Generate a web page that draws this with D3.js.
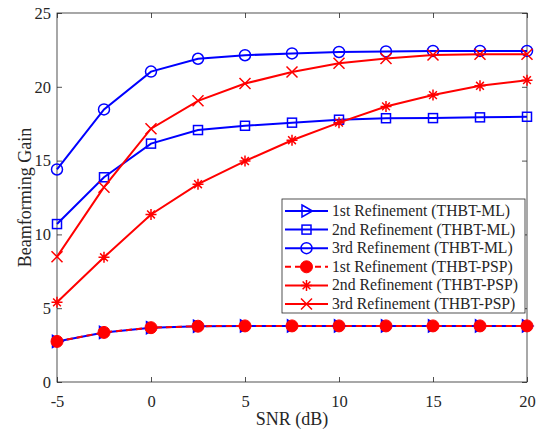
<!DOCTYPE html>
<html>
<head>
<meta charset="utf-8">
<script src="https://cdn.jsdelivr.net/npm/d3@7"></script>
<style>
  body { margin: 0; background: #fff; }
  svg text { font-family: "Liberation Serif", "Times New Roman", serif; fill: #262626; }
</style>
</head>
<body>
<svg id="chart" width="538" height="432"></svg>
<script>
// SNR sweep (dB)
const snr = [-5, -2.5, 0, 2.5, 5, 7.5, 10, 12.5, 15, 17.5, 20];

// Beamforming gain per refinement stage
const ml1  = [2.75, 3.36, 3.68, 3.78, 3.8, 3.8, 3.8, 3.8, 3.8, 3.8, 3.8];
const ml2  = [10.7, 13.87, 16.15, 17.07, 17.36, 17.57, 17.77, 17.87, 17.88, 17.93, 17.97];
const ml3  = [14.4, 18.47, 21.03, 21.9, 22.14, 22.26, 22.36, 22.4, 22.43, 22.43, 22.43];
const psp1 = [2.75, 3.36, 3.68, 3.78, 3.8, 3.8, 3.8, 3.8, 3.8, 3.8, 3.8];
const psp2 = [5.4, 8.45, 11.35, 13.4, 14.97, 16.38, 17.57, 18.67, 19.44, 20.07, 20.45];
const psp3 = [8.49, 13.2, 17.16, 19.05, 20.22, 21.0, 21.6, 21.92, 22.16, 22.2, 22.2];

const xTicks = [-5, 0, 5, 10, 15, 20];
const yTicks = [0, 5, 10, 15, 20, 25];

const series = [
  { name: "1st Refinement (THBT-ML)",  values: ml1,  color: "#0000ff", marker: "tri",    dash: null },
  { name: "2nd Refinement (THBT-ML)",  values: ml2,  color: "#0000ff", marker: "square", dash: null },
  { name: "3rd Refinement (THBT-ML)",  values: ml3,  color: "#0000ff", marker: "circle", dash: null },
  { name: "1st Refinement (THBT-PSP)", values: psp1, color: "#ff0000", marker: "dot",    dash: "6,4" },
  { name: "2nd Refinement (THBT-PSP)", values: psp2, color: "#ff0000", marker: "star",   dash: null },
  { name: "3rd Refinement (THBT-PSP)", values: psp3, color: "#ff0000", marker: "cross",  dash: null }
];

const L = 57, R = 527, T = 13, B = 382;
const svg = d3.select("#chart");
const x = d3.scaleLinear().domain([-5, 20]).range([L, R]);
const y = d3.scaleLinear().domain([0, 25]).range([B, T]);

const serif = '"Liberation Serif", "Times New Roman", serif';
const fmt = d => String(d);   // plain hyphen-minus for negatives

// Axes box with inward ticks on all four sides
const axisColor = "#262626";
const tickLen = 5;
function styleAxis(g) {
  g.attr("font-family", null).attr("font-size", null);
  g.select(".domain").remove();
  g.selectAll(".tick line").attr("stroke", axisColor).attr("stroke-width", 0.8);
  g.selectAll(".tick text")
    .style("font-family", serif)
    .style("font-size", "16.5px")
    .attr("fill", axisColor);
}
svg.append("g").attr("transform", `translate(0,${B})`)
  .call(d3.axisBottom(x).tickValues(xTicks).tickSizeInner(-tickLen).tickSizeOuter(0).tickPadding(13).tickFormat(fmt))
  .call(styleAxis);
svg.append("g").attr("transform", `translate(0,${T})`)
  .call(d3.axisTop(x).tickValues(xTicks).tickSizeInner(-tickLen).tickSizeOuter(0).tickFormat(""))
  .call(styleAxis);
svg.append("g").attr("transform", `translate(${L},0)`)
  .call(d3.axisLeft(y).tickValues(yTicks).tickSizeInner(-tickLen).tickSizeOuter(0).tickPadding(6).tickFormat(fmt))
  .call(styleAxis);
svg.append("g").attr("transform", `translate(${R},0)`)
  .call(d3.axisRight(y).tickValues(yTicks).tickSizeInner(-tickLen).tickSizeOuter(0).tickFormat(""))
  .call(styleAxis);

svg.append("rect").attr("x", L).attr("y", T).attr("width", R - L).attr("height", B - T)
  .attr("fill", "none").attr("stroke", axisColor).attr("stroke-width", 0.8);

// Axis titles
svg.append("text").attr("x", (L + R) / 2).attr("y", 425).attr("text-anchor", "middle")
  .style("font-size", "18px").text("SNR (dB)");
svg.append("text").attr("transform", `translate(31,${(T + B) / 2}) rotate(-90)`)
  .attr("text-anchor", "middle").style("font-size", "18px").text("Beamforming Gain");

// Marker drawing
function drawMarker(g, type, color, cx, cy) {
  const sw = 1.5;
  switch (type) {
    case "tri":
      g.append("path").attr("d", `M${cx - 4.5},${cy - 6}L${cx + 6},${cy}L${cx - 4.5},${cy + 6}Z`)
        .attr("fill", "none").attr("stroke", color).attr("stroke-width", sw);
      break;
    case "square":
      g.append("rect").attr("x", cx - 4.5).attr("y", cy - 4.5).attr("width", 9).attr("height", 9)
        .attr("fill", "none").attr("stroke", color).attr("stroke-width", sw);
      break;
    case "circle":
      g.append("circle").attr("cx", cx).attr("cy", cy).attr("r", 5.5)
        .attr("fill", "none").attr("stroke", color).attr("stroke-width", sw);
      break;
    case "dot":
      g.append("circle").attr("cx", cx).attr("cy", cy).attr("r", 6)
        .attr("fill", color).attr("stroke", color).attr("stroke-width", 1);
      break;
    case "star": {
      const r = 5.5;
      let d = "";
      [0, 45, 90, 135].forEach(a => {
        const t = a * Math.PI / 180;
        d += `M${cx - r * Math.cos(t)},${cy - r * Math.sin(t)}L${cx + r * Math.cos(t)},${cy + r * Math.sin(t)}`;
      });
      g.append("path").attr("d", d).attr("stroke", color).attr("stroke-width", sw).attr("fill", "none");
      break;
    }
    case "cross": {
      const r = 5.5;
      g.append("path").attr("d", `M${cx - r},${cy - r}L${cx + r},${cy + r}M${cx - r},${cy + r}L${cx + r},${cy - r}`)
        .attr("stroke", color).attr("stroke-width", sw).attr("fill", "none");
      break;
    }
  }
}

// Curves
const line = d3.line().x((d, i) => x(snr[i])).y(d => y(d));
series.forEach(s => {
  const g = svg.append("g");
  g.append("path").datum(s.values).attr("d", line)
    .attr("fill", "none").attr("stroke", s.color).attr("stroke-width", 2)
    .attr("stroke-dasharray", s.dash);
  s.values.forEach((v, i) => drawMarker(g, s.marker, s.color, x(snr[i]), y(v)));
});

// Legend
const lg = svg.append("g");
const lx = 282, ly = 199, lw = 243, lh = 114;
lg.append("rect").attr("x", lx).attr("y", ly).attr("width", lw).attr("height", lh)
  .attr("fill", "#fff").attr("stroke", axisColor).attr("stroke-width", 0.8);
series.forEach((s, i) => {
  const cy = 211 + i * 18.6;
  lg.append("line").attr("x1", 285).attr("x2", 328).attr("y1", cy).attr("y2", cy)
    .attr("stroke", s.color).attr("stroke-width", 2).attr("stroke-dasharray", s.dash);
  drawMarker(lg, s.marker, s.color, 306.5, cy);
  lg.append("text").attr("x", 332).attr("y", cy + 5).style("font-size", "15.7px").text(s.name);
});
</script>
</body>
</html>
